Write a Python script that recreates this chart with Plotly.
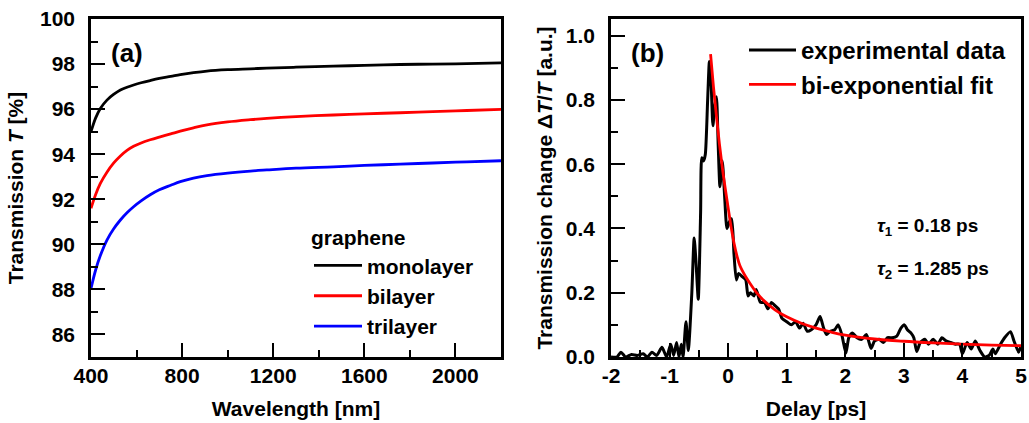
import plotly.graph_objects as go

# ---------------- Panel (a) data ----------------
wavelength = [400, 420, 441, 470, 499, 529, 558, 587, 620, 660, 700, 750, 792, 850, 909, 1000,
              1100, 1172, 1300, 1464, 1600, 1757, 1900, 2050, 2200]
mono = [95.0, 95.6, 96.03, 96.4, 96.65, 96.85, 96.97, 97.07, 97.17, 97.27, 97.36, 97.45, 97.53,
        97.62, 97.69, 97.75, 97.79, 97.82, 97.86, 97.91, 97.94, 97.98, 98.0, 98.02, 98.05]
bi = [91.6, 92.2, 92.7, 93.2, 93.6, 93.92, 94.17, 94.35, 94.5, 94.64, 94.76, 94.9, 95.02,
      95.17, 95.3, 95.43, 95.53, 95.59, 95.67, 95.74, 95.79, 95.84, 95.89, 95.94, 95.99]
tri = [88.04, 88.85, 89.5, 90.19, 90.68, 91.08, 91.4, 91.67, 91.93, 92.2, 92.42, 92.62, 92.78,
       92.94, 93.05, 93.16, 93.25, 93.3, 93.38, 93.44, 93.5, 93.56, 93.61, 93.66, 93.71]

# ---------------- Panel (b) data ----------------
delay = [-2.0, -1.9, -1.83, -1.75, -1.65, -1.55, -1.45, -1.38, -1.3, -1.22, -1.13, -1.05, -0.98,
         -0.93, -0.88, -0.84, -0.8, -0.77, -0.72, -0.68, -0.62, -0.58, -0.55, -0.51, -0.47, -0.45,
         -0.42, -0.39, -0.35, -0.32, -0.29, -0.26, -0.23, -0.2, -0.17, -0.14, -0.1, -0.06, -0.02,
         0.02, 0.06, 0.1, 0.14, 0.18, 0.24, 0.3, 0.34, 0.38, 0.44, 0.48, 0.55, 0.62, 0.68, 0.74,
         0.8, 0.86, 0.92, 1.0, 1.08, 1.15, 1.22, 1.28, 1.35, 1.42, 1.5, 1.57, 1.63, 1.68, 1.74,
         1.82, 1.88, 1.94, 2.01, 2.06, 2.12, 2.2, 2.28, 2.36, 2.44, 2.5, 2.58, 2.65, 2.72, 2.8,
         2.88, 2.95, 3.01, 3.06, 3.12, 3.17, 3.22, 3.28, 3.36, 3.42, 3.5, 3.58, 3.65, 3.72, 3.8,
         3.88, 3.95, 4.0, 4.08, 4.15, 4.22, 4.3, 4.38, 4.46, 4.52, 4.56, 4.65, 4.72, 4.82, 4.88,
         4.96, 5.0]
signal = [0.0, 0.0, 0.015, 0.0, 0.008, 0.005, 0.01, 0.0, 0.015, 0.005, 0.03, 0.0, 0.04,
          0.005, 0.045, 0.0, 0.04, 0.0, 0.11, 0.02, 0.2, 0.37, 0.3, 0.18, 0.45, 0.62,
          0.61, 0.63, 0.8, 0.92, 0.85, 0.72, 0.78, 0.81, 0.66, 0.53, 0.61, 0.50, 0.40,
          0.42, 0.43, 0.32, 0.24, 0.26, 0.25, 0.24, 0.19, 0.20, 0.19, 0.21, 0.17, 0.17, 0.15, 0.17,
          0.16, 0.15, 0.12, 0.11, 0.10, 0.11, 0.09, 0.105, 0.08, 0.085, 0.10, 0.126, 0.09, 0.07, 0.08,
          0.085, 0.10, 0.07, 0.012, 0.06, 0.075, 0.06, 0.055, 0.07, 0.027, 0.05, 0.055, 0.045, 0.06, 0.06,
          0.065, 0.09, 0.10, 0.085, 0.075, 0.06, 0.017, 0.045, 0.055, 0.04, 0.055, 0.04, 0.06, 0.05, 0.045,
          0.04, 0.04, 0.01, 0.045, 0.025, 0.05, 0.02, 0.0, 0.006, 0.025, 0.01, 0.04, 0.06, 0.079, 0.05,
          0.015, 0.035]

fit_delay = [-0.3, -0.25, -0.2, -0.15, -0.1, -0.05, 0.0, 0.05, 0.1, 0.15, 0.2, 0.3, 0.4, 0.5,
             0.6, 0.8, 1.0, 1.25, 1.5, 1.75, 2.0, 2.5, 3.0, 3.5, 4.0, 4.5, 5.0]
fit_value = [0.943, 0.84, 0.75, 0.665, 0.59, 0.525, 0.465, 0.405, 0.355, 0.315, 0.285, 0.25, 0.222,
             0.197, 0.177, 0.147, 0.125, 0.105, 0.09, 0.078, 0.068, 0.056, 0.049, 0.044, 0.04, 0.037, 0.035]

tick_b_x_vals = [-2, -1, 0, 1, 2, 3, 4, 5]
tick_b_x_text = ["-2", "-1", "0", "1", "2", "3", "4", "5"]

FONT = "Liberation Sans, Arial, sans-serif"
W, H = 1029, 423
PLOT_TOP, PLOT_BOT = 19, 357
MT, MB = PLOT_TOP, H - PLOT_BOT
PH = PLOT_BOT - PLOT_TOP


def px_x(x):   # page pixel -> paper x
    return x / W


def px_y(y):   # page pixel -> paper y
    return (PLOT_BOT - y) / PH


fig = go.Figure()

lw = 2.8
fig.add_trace(go.Scatter(x=wavelength, y=mono, mode="lines", name="monolayer", line=dict(color="#000000", width=lw, shape="spline"),
                         xaxis="x", yaxis="y", legend="legend"))
fig.add_trace(go.Scatter(x=wavelength, y=bi, mode="lines", name="bilayer", line=dict(color="#ff0000", width=lw, shape="spline"),
                         xaxis="x", yaxis="y", legend="legend"))
fig.add_trace(go.Scatter(x=wavelength, y=tri, mode="lines", name="trilayer", line=dict(color="#0000ff", width=lw, shape="spline"),
                         xaxis="x", yaxis="y", legend="legend"))

fig.add_trace(go.Scatter(x=delay, y=signal, mode="lines", name="experimental data",
                         line=dict(color="#000000", width=3, shape="spline", smoothing=0.6),
                         xaxis="x2", yaxis="y2", legend="legend2"))
fig.add_trace(go.Scatter(x=fit_delay, y=fit_value, mode="lines", name="bi-exponential fit",
                         line=dict(color="#ff0000", width=lw, shape="spline"),
                         xaxis="x2", yaxis="y2", legend="legend2"))

tickfont = dict(family=FONT, size=21, color="black", weight="bold")
titlefont = dict(family=FONT, size=21, color="black", weight="bold")


def axis_common():
    return dict(showline=True, linecolor="black", linewidth=2.5, mirror=True,
                ticks="inside", tickcolor="black", tickwidth=2, ticklen=14,
                showgrid=False, zeroline=False, tickfont=tickfont, automargin=False,
                ticklabeloverflow="allow")


def minor(d):
    return dict(ticks="inside", ticklen=7, tickwidth=2, tickcolor="black", dtick=d, tick0=0)


xa = axis_common()
xa.update(domain=[px_x(91), px_x(501)], range=[400, 2200], dtick=400, tick0=0, minor=minor(200),
          title=dict(text="Wavelength [nm]", font=titlefont, standoff=16), anchor="y",
          ticklabelstandoff=-2)
ya = axis_common()
ya.update(domain=[0, 1], range=[85, 100.0001], dtick=2, tick0=0, minor=minor(1),
          title=dict(text="Transmission <i>T</i> [%]", font=titlefont, standoff=11), anchor="x",
          ticklabelstandoff=9)
xb = axis_common()
xb.update(domain=[px_x(611), px_x(1021)], range=[-2, 5], tickmode="array", tickvals=tick_b_x_vals,
          ticktext=tick_b_x_text, minor=minor(0.5),
          title=dict(text="Delay [ps]", font=titlefont, standoff=16), anchor="y2",
          ticklabelstandoff=-2)
yb = axis_common()
yb.update(domain=[0, 1], range=[0, 1.052], dtick=0.2, tick0=0, tickformat=".1f", minor=minor(0.1),
          title=dict(text="Transmission change Δ<i>T</i>/<i>T</i> [a.u.]", font=titlefont, standoff=8),
          anchor="x2", ticklabelstandoff=9)

leg_font_a = dict(family=FONT, size=21, color="black", weight="bold")
leg_font_b = dict(family=FONT, size=24, color="black", weight="bold")

fig.update_layout(
    width=W, height=H,
    margin=dict(l=0, r=0, t=MT, b=MB, pad=0),
    plot_bgcolor="white", paper_bgcolor="white",
    font=dict(family=FONT, color="black"),
    xaxis=xa, yaxis=ya, xaxis2=xb, yaxis2=yb,
    legend=dict(x=px_x(309), xanchor="left", y=px_y(218), yanchor="top",
                bgcolor="rgba(0,0,0,0)", borderwidth=0, itemwidth=48,
                font=leg_font_a, title=dict(text="graphene", font=leg_font_a),
                tracegroupgap=0),
    legend2=dict(x=px_x(744), xanchor="left", y=px_y(28), yanchor="top",
                 bgcolor="rgba(0,0,0,0)", borderwidth=0, itemwidth=47,
                 font=leg_font_b, tracegroupgap=0),
    showlegend=True,
)

ann_font = dict(family=FONT, size=26, color="black", weight="bold")
fig.add_annotation(text="(a)", xref="paper", yref="paper", x=px_x(109), y=px_y(53),
                   xanchor="left", yanchor="middle", showarrow=False, font=ann_font)
fig.add_annotation(text="(b)", xref="paper", yref="paper", x=px_x(629), y=px_y(53),
                   xanchor="left", yanchor="middle", showarrow=False, font=ann_font)
tau_font = dict(family=FONT, size=19, color="black", weight="bold")
fig.add_annotation(text="<i>τ</i><sub>1</sub> = 0.18 ps", xref="paper", yref="paper", x=px_x(875),
                   y=px_y(227), xanchor="left", yanchor="middle", showarrow=False, font=tau_font)
fig.add_annotation(text="<i>τ</i><sub>2</sub> = 1.285 ps", xref="paper", yref="paper", x=px_x(875),
                   y=px_y(270), xanchor="left", yanchor="middle", showarrow=False, font=tau_font)

# remove the default 8px page margin so the figure fills the 1029x423 window exactly
fig.write_html("out.html", config={"displayModeBar": False},
               post_script="document.body.style.margin='0';document.body.style.overflow='hidden';")
